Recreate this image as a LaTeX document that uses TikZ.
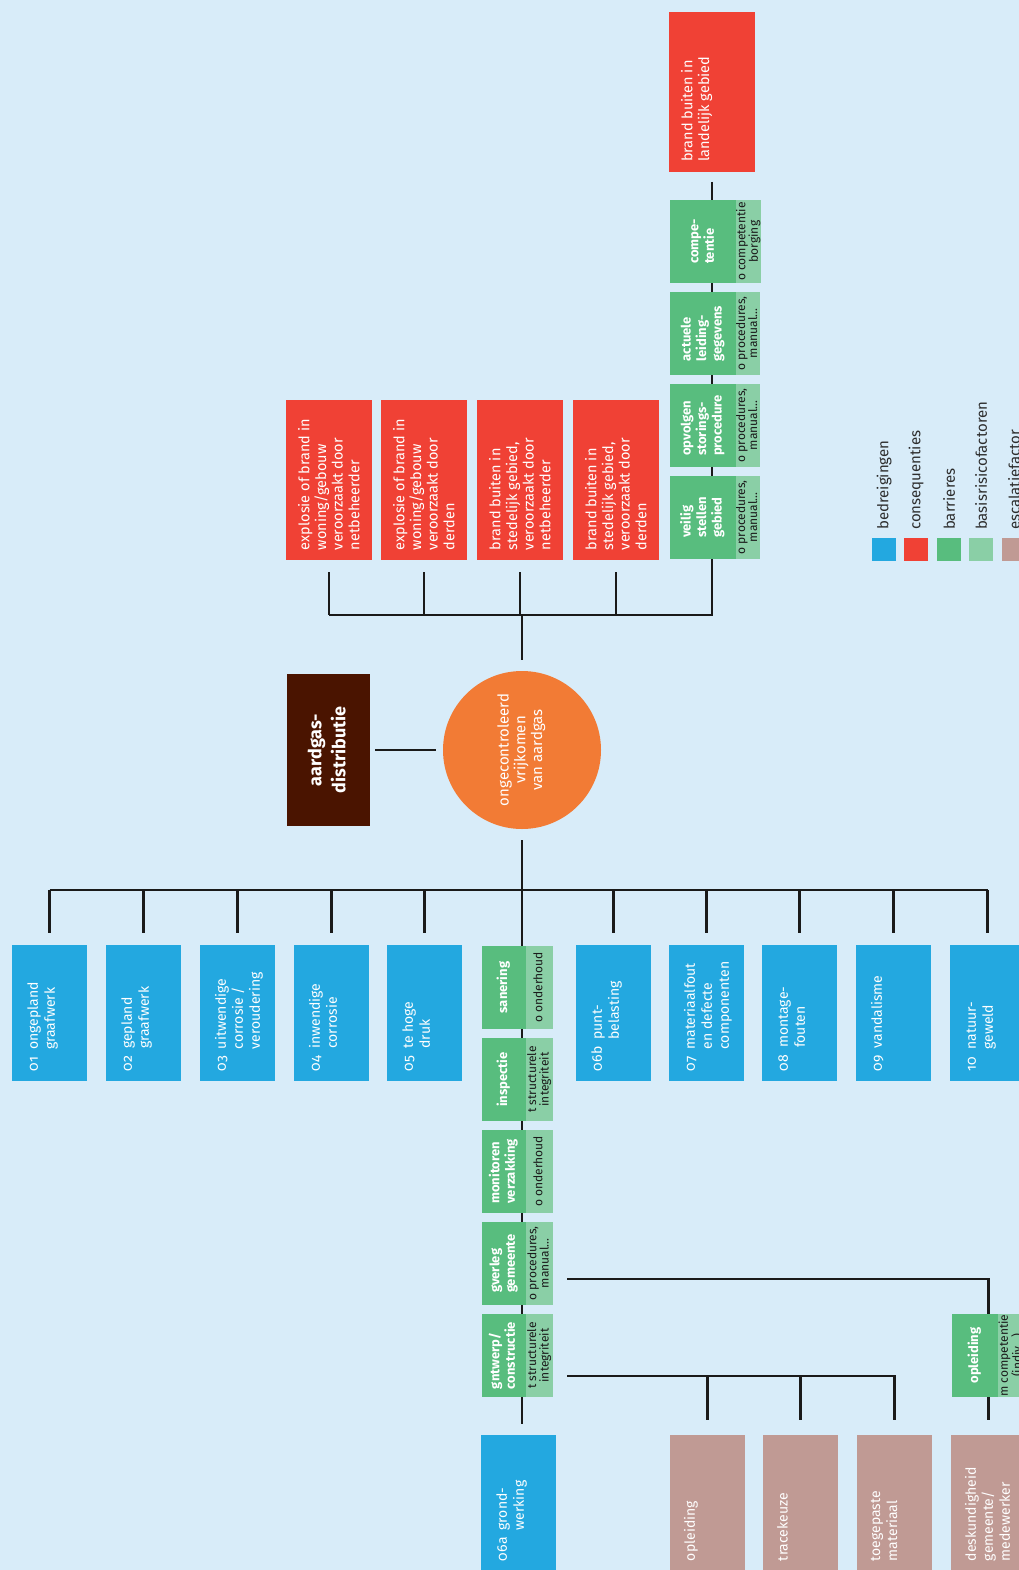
\documentclass[tikz,border=0pt]{standalone}
\usepackage{fontspec}
\setmainfont{Fira Sans}[Numbers=OldStyle]
\usepackage{graphicx}
\usetikzlibrary{positioning}

\definecolor{bgblue}{RGB}{216,236,249}
\definecolor{threatblue}{RGB}{35,168,224}
\definecolor{conred}{RGB}{240,65,53}
\definecolor{barrgreen}{RGB}{88,189,126}
\definecolor{factgreen}{RGB}{138,207,166}
\definecolor{escbrown}{RGB}{192,154,148}
\definecolor{hazbrown}{RGB}{74,20,0}
\definecolor{topor}{RGB}{242,123,53}
\definecolor{linegray}{RGB}{26,26,26}
\definecolor{legendgray}{RGB}{45,45,45}

% rotated text blocks
\newcommand{\uptext}[3]{\rotatebox{90}{\parbox[c][#1][t]{#2}{\raggedright #3}}}
\newcommand{\numtext}[2]{#1\hspace{7pt}\begin{tabular}[t]{@{}l@{}}#2\end{tabular}}
\newcommand{\thrtext}[2]{\uptext{47pt}{116pt}{\numtext{#1}{#2}}}
\newcommand{\esctext}[1]{\uptext{47pt}{116pt}{#1}}
\newcommand{\context}[1]{\uptext{62pt}{140pt}{#1}}
\newcommand{\bartext}[1]{\rotatebox{90}{\begin{tabular}{@{}l@{}}#1\end{tabular}}}
\newcommand{\factext}[1]{\rotatebox{90}{\begin{tabular}{@{}c@{}}#1\end{tabular}}}
\newcommand{\midtext}[1]{\rotatebox{90}{\begin{tabular}{@{}c@{}}#1\end{tabular}}}

\tikzset{%
  >=latex,
  line/.style={draw=linegray, line width=2.2pt},
  box/.style={rectangle, anchor=north west, outer sep=0pt, text=white},
  threat/.style={box, fill=threatblue, inner xsep=14pt, inner ysep=10pt,
    font=\fontsize{14}{17}\selectfont},
  escal/.style={threat, fill=escbrown},
  conseq/.style={box, fill=conred, inner xsep=12pt, inner ysep=10pt,
    font=\fontsize{14.5}{16.7}\selectfont},
  barrier/.style={box, fill=barrgreen, inner sep=0pt, minimum height=83pt,
    font=\bfseries\fontsize{13}{15.5}\selectfont},
  widebar/.style={barrier, minimum width=66pt},
  narrowbar/.style={barrier, minimum width=44pt},
  factor/.style={box, fill=factgreen, text=linegray, inner sep=0pt,
    minimum height=83pt, font=\fontsize{12}{10.5}\selectfont},
  hazard/.style={box, fill=hazbrown, inner sep=0pt, minimum width=83pt,
    minimum height=152pt, font=\bfseries\fontsize{18}{24}\selectfont},
  topevent/.style={circle, fill=topor, inner sep=0pt, minimum size=158pt,
    text=white, font=\fontsize{15}{16.7}\selectfont},
  legend/.style={box, inner sep=0pt, minimum width=24pt, minimum height=23pt},
  legtext/.style={inner sep=0pt, text=legendgray, font=\fontsize{15}{17}\selectfont}
}

\begin{document}
\begin{tikzpicture}[x=1pt,y=-1pt]
\useasboundingbox (0,0) rectangle (1019,1570);
\clip (0,0) rectangle (1019,1570);
\fill[bgblue] (0,0) rectangle (1019,1570);

% hazard and top event
\node[topevent] (top) at (522,750) {\midtext{ongecontroleerd\\vrijkomen\\van aardgas}};
\node[hazard] (haz) at (287,674) {\midtext{aardgas-\\distributie}};

% consequences
\node[conseq] (c1) at (286,400) {\context{explosie of brand in\\woning/gebouw\\veroorzaakt door\\netbeheerder}};
\node[conseq] (c2) at (381,400) {\context{explosie of brand in\\woning/gebouw\\veroorzaakt door\\derden}};
\node[conseq] (c3) at (477,400) {\context{brand buiten in\\stedelijk gebied,\\veroorzaakt door\\netbeheerder}};
\node[conseq] (c4) at (573,400) {\context{brand buiten in\\stedelijk gebied,\\veroorzaakt door\\derden}};
\node[conseq] (c5) at (669,12) {\context{brand buiten in\\landelijk gebied}};

% barriers towards c5
\node[widebar] (k4) at (670,200) {\bartext{compe-\\tentie}};
\node[factor, minimum width=24pt, right=0pt of k4] (k4f) {\factext{o competentie\\borging}};
\node[widebar] (k3) at (670,292) {\bartext{actuele\\leiding-\\gegevens}};
\node[factor, minimum width=24pt, right=0pt of k3] (k3f) {\factext{o procedures,\\manual...}};
\node[widebar] (k2) at (670,384) {\bartext{opvolgen\\storings-\\procedure}};
\node[factor, minimum width=24pt, right=0pt of k2] (k2f) {\factext{o procedures,\\manual...}};
\node[widebar] (k1) at (670,476) {\bartext{veilig\\stellen\\gebied}};
\node[factor, minimum width=24pt, right=0pt of k1] (k1f) {\factext{o procedures,\\manual...}};

% threats
\node[threat] (t01) at (12,945) {\thrtext{01}{ongepland\\graafwerk}};
\node[threat] (t02) at (106,945) {\thrtext{02}{gepland\\graafwerk}};
\node[threat] (t03) at (200,945) {\thrtext{03}{uitwendige\\corrosie /\\veroudering}};
\node[threat] (t04) at (294,945) {\thrtext{04}{inwendige\\corrosie}};
\node[threat] (t05) at (387,945) {\thrtext{05}{te hoge\\druk}};
\node[threat] (t06b) at (576,945) {\thrtext{06b}{punt-\\belasting}};
\node[threat] (t07) at (669,945) {\thrtext{07}{materiaalfout\\en defecte\\componenten}};
\node[threat] (t08) at (762,945) {\thrtext{08}{montage-\\fouten}};
\node[threat] (t09) at (856,945) {\thrtext{09}{vandalisme}};
\node[threat] (t10) at (950,945) {\thrtext{10}{natuur-\\geweld}};
\node[threat] (t06a) at (481,1435) {\thrtext{06a}{grond-\\werking}};

% barriers towards t06a
\node[narrowbar] (m1) at (482,946) {\bartext{sanering}};
\node[factor, minimum width=27pt, right=0pt of m1] (m1f) {\factext{o onderhoud}};
\node[narrowbar] (m2) at (482,1038) {\bartext{inspectie}};
\node[factor, minimum width=27pt, right=0pt of m2] (m2f) {\factext{t structurele\\integriteit}};
\node[narrowbar] (m3) at (482,1130) {\bartext{monitoren\\verzakking}};
\node[factor, minimum width=27pt, right=0pt of m3] (m3f) {\factext{o onderhoud}};
\node[narrowbar] (m4) at (482,1222) {\bartext{gverleg\\gemeente}};
\node[factor, minimum width=27pt, right=0pt of m4] (m4f) {\factext{o procedures,\\manual...}};
\node[narrowbar] (m5) at (482,1314) {\bartext{gntwerp/\\constructie}};
\node[factor, minimum width=27pt, right=0pt of m5] (m5f) {\factext{t structurele\\integriteit}};

% escalation factors
\node[escal] (f1) at (670,1435) {\esctext{opleiding}};
\node[escal] (f2) at (763,1435) {\esctext{tracekeuze}};
\node[escal] (f3) at (857,1435) {\esctext{toegepaste\\materiaal}};
\node[escal] (f4) at (951,1435) {\esctext{deskundigheid\\gemeente/\\medewerker}};
\node[narrowbar, minimum width=46pt] (g1) at (952,1314) {\bartext{opleiding}};
\node[factor, minimum width=27pt, right=0pt of g1] (g1f) {\factext{m competentie\\(indiv...)}};

% legend
\node[legend, fill=threatblue] (l1) at (872,538) {};
\node[legend, fill=conred] (l2) at (904,538) {};
\node[legend, fill=barrgreen] (l3) at (937,538) {};
\node[legend, fill=factgreen] (l4) at (969,538) {};
\node[legend, fill=escbrown] (l5) at (1002,538) {};
\node[legtext, above=8pt of l1] (l1t) {\rotatebox{90}{bedreigingen}};
\node[legtext, above=8pt of l2] (l2t) {\rotatebox{90}{consequenties}};
\node[legtext, above=8pt of l3] (l3t) {\rotatebox{90}{barrieres}};
\node[legtext, above=8pt of l4] (l4t) {\rotatebox{90}{basisrisicofactoren}};
\node[legtext, above=8pt of l5] (l5t) {\rotatebox{90}{escalatiefactor}};

% connectors
\coordinate (busC) at (522,615);
\coordinate (busT) at (522,890);
\coordinate (esc1) at (567,1279);
\coordinate (esc2) at (567,1376);

\draw[line, shorten <=10pt] (c5.south) -- (k4.north -| c5.south);
\draw[line] (k4.south -| c5.south) -- (k3.north -| c5.south);
\draw[line] (k3.south -| c5.south) -- (k2.north -| c5.south);
\draw[line] (k2.south -| c5.south) -- (k1.north -| c5.south);
\draw[line] (k1.south -| c5.south) |- (c1.south |- busC);
\foreach \c in {c1,c2,c3,c4}
  \draw[line, shorten <=12pt] (\c.south) -- (\c.south |- busC);
\draw[line, shorten >=11pt] (busC) -- (top.north);
\draw[line, shorten <=5pt, shorten >=7pt] (haz.east) -- (top.west);

\draw[line, shorten <=11pt] (top.south) -- (busT);
\draw[line] (t01.north |- busT) -- (t10.north |- busT);
\foreach \t in {01,02,03,04,05,06b,07,08,09,10}
  \draw[line, shorten >=12pt] (t\t.north |- busT) -- (t\t.north);
\draw[line] (busT) -- (m1.north -| busT);
\draw[line] (m1.south -| busT) -- (m2.north -| busT);
\draw[line] (m2.south -| busT) -- (m3.north -| busT);
\draw[line] (m3.south -| busT) -- (m4.north -| busT);
\draw[line] (m4.south -| busT) -- (m5.north -| busT);
\draw[line, shorten >=11pt] (m5.south -| busT) -- (t06a.north -| busT);

\draw[line] (esc1) -| (g1.north -| f4.north);
\draw[line, shorten >=15pt] (g1.south -| f4.north) -- (f4.north);
\draw[line, shorten >=15pt] (esc2) -| (f3.north);
\foreach \f in {f1,f2}
  \draw[line, shorten >=15pt] (\f.north |- esc2) -- (\f.north);
\end{tikzpicture}
\end{document}
